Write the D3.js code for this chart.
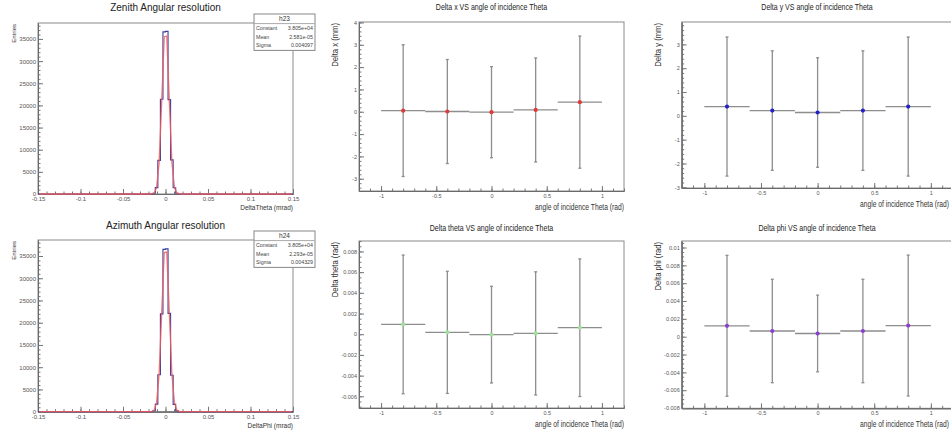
<!DOCTYPE html>
<html>
<head>
<meta charset="utf-8">
<script src="https://cdn.jsdelivr.net/npm/d3@7"></script>
<style>
  body { margin: 0; background: #fff; }
  svg { display: block; font-family: "Liberation Sans", Arial, sans-serif; }
</style>
</head>
<body>
<script>
// ---- histograms (0.003 wide bins, all bins outside the listed ones are empty)
var histRange = [-0.15, 0.15];
var binWidth = 0.003;
var binStart = -0.018;
var zenithCounts  = [0, 160, 1450, 7600, 21400, 36600, 36700, 21300, 7700, 1400, 170, 0];
var azimuthCounts = [0, 200, 1700, 8300, 22000, 36500, 36600, 22100, 8200, 1650, 190, 0];
var zenithStats  = [["Constant", "3.805e+04"], ["Mean", "2.581e-05"], ["Sigma", "0.004097"]];
var azimuthStats = [["Constant", "3.805e+04"], ["Mean", "2.293e-05"], ["Sigma", "0.004329"]];
var zenithFit  = [38050, 2.581e-05, 0.004097];   // constant, mean, sigma
var azimuthFit = [38050, 2.293e-05, 0.004329];
var histXTicks = [-0.15, -0.1, -0.05, 0, 0.05, 0.1, 0.15];
var histYTicks = [0, 5000, 10000, 15000, 20000, 25000, 30000, 35000];

// ---- profiles vs angle of incidence
var thetaBins = [-0.8, -0.4, 0, 0.4, 0.8];
var thetaHalfWidth = 0.2;
var deltaX      = [0.05, 0.01, -0.02, 0.08, 0.43];
var deltaXErr   = [2.95, 2.33, 2.04, 2.33, 2.96];
var deltaY      = [0.39, 0.22, 0.14, 0.22, 0.39];
var deltaYErr   = [2.92, 2.51, 2.30, 2.51, 2.92];
var deltaTheta    = [0.00095, 0.00018, -0.00004, 0.00008, 0.00063];
var deltaThetaErr = [0.0067, 0.0059, 0.00467, 0.00595, 0.00665];
var deltaPhi    = [0.00122, 0.00064, 0.00036, 0.00064, 0.00125];
var deltaPhiErr = [0.0079, 0.0058, 0.0043, 0.0058, 0.0079];
var thetaTicks = [-1, -0.5, 0, 0.5, 1];
var dxTicks = [-3, -2, -1, 0, 1, 2, 3, 4];
var dyTicks = [-3, -2, -1, 0, 1, 2, 3];
var dthTicks = [-0.006, -0.004, -0.002, 0, 0.002, 0.004, 0.006, 0.008];
var dphTicks = [-0.008, -0.006, -0.004, -0.002, 0, 0.002, 0.004, 0.006, 0.008, 0.01];

var svg = d3.select("body").append("svg").attr("width", 951).attr("height", 435);

function minorTicks(dom, step) {
  var lo = Math.ceil(dom[0] / step - 1e-6), hi = Math.floor(dom[1] / step + 1e-6);
  return d3.range(lo, hi + 1).map(function(k) { return k * step; });
}

// ROOT-like frame: ticks pointing inside, labels outside
function makeFrame(box, xDom, yDom, xMaj, xMin, yMaj, yMin, fs) {
  var x = d3.scaleLinear().domain(xDom).range([box.x0, box.x1]);
  var y = d3.scaleLinear().domain(yDom).range([box.y1, box.y0]);
  var g = svg.append("g");
  g.append("rect")
    .attr("x", box.x0).attr("y", box.y0)
    .attr("width", box.x1 - box.x0).attr("height", box.y1 - box.y0)
    .attr("fill", "none").attr("stroke", "#8a8a8a").attr("stroke-width", 1);

  var xa = g.append("g").attr("transform", "translate(0," + box.y1 + ")");
  xa.call(d3.axisBottom(x).tickValues(minorTicks(xDom, xMin)).tickSize(-2.5).tickSizeOuter(0).tickFormat(""));
  xa.append("g").call(d3.axisBottom(x).tickValues(xMaj).tickSize(-5).tickSizeOuter(0).tickPadding(3)
    .tickFormat(function(d) { return String(d); }));
  var ya = g.append("g").attr("transform", "translate(" + box.x0 + ",0)");
  ya.call(d3.axisLeft(y).tickValues(minorTicks(yDom, yMin)).tickSize(-2.5).tickSizeOuter(0).tickFormat(""));
  ya.append("g").call(d3.axisLeft(y).tickValues(yMaj).tickSize(-5).tickSizeOuter(0).tickPadding(2)
    .tickFormat(function(d) { return String(d); }));

  g.selectAll(".domain").attr("stroke", "#6a6a6a");
  g.selectAll(".tick line").attr("stroke", "#777");
  g.selectAll(".tick text").attr("fill", "#555").attr("font-size", fs);
  return { x: x, y: y, g: g };
}

// sx squeezes the text horizontally (ROOT output used a condensed face)
function title(cx, cy, txt, fs, sx) {
  svg.append("text").attr("transform", "translate(" + cx + "," + cy + ") scale(" + (sx || 1) + ",1)")
    .attr("text-anchor", "middle").attr("font-size", fs).attr("fill", "#222").text(txt);
}
function xLabel(xr, yy, txt, fs, sx) {
  svg.append("text").attr("transform", "translate(" + xr + "," + yy + ") scale(" + (sx || 1) + ",1)")
    .attr("text-anchor", "end").attr("font-size", fs).attr("fill", "#333").text(txt);
}
function yLabel(xx, ytop, txt, fs, sx) {
  svg.append("text").attr("transform", "translate(" + xx + "," + ytop + ") rotate(-90) scale(" + (sx || 1) + ",1)")
    .attr("text-anchor", "end").attr("font-size", fs).attr("fill", "#333").text(txt);
}

function statBox(x0, y0, name, rows) {
  var w = 61, rh = 8.6, g = svg.append("g");
  g.append("rect").attr("x", x0).attr("y", y0).attr("width", w).attr("height", rh * (rows.length + 1) + 2)
    .attr("fill", "#fff").attr("stroke", "#888");
  g.append("line").attr("x1", x0).attr("x2", x0 + w).attr("y1", y0 + rh + 1).attr("y2", y0 + rh + 1).attr("stroke", "#aaa");
  g.append("text").attr("x", x0 + w / 2).attr("y", y0 + 7).attr("text-anchor", "middle")
    .attr("font-size", 6.5).attr("fill", "#333").text(name);
  rows.forEach(function(r, i) {
    var yy = y0 + rh * (i + 1) + 7.5;
    g.append("text").attr("x", x0 + 2).attr("y", yy).attr("font-size", 5.3).attr("fill", "#444").text(r[0]);
    g.append("text").attr("x", x0 + w - 2).attr("y", yy).attr("text-anchor", "end")
      .attr("font-size", 5.3).attr("fill", "#444").text(r[1]);
  });
}

function histogram(box, counts, fit, stats, name, xTitle, titleTxt, titleY) {
  var f = makeFrame(box, histRange, [0, 38600], histXTicks, 0.01, histYTicks, 1000, 6);
  var pts = [[histRange[0], 0]];
  counts.forEach(function(c, i) { pts.push([binStart + i * binWidth, c]); });
  pts.push([binStart + counts.length * binWidth, 0], [histRange[1], 0]);
  var line = d3.line().x(function(d) { return f.x(d[0]); }).y(function(d) { return f.y(d[1]); });
  f.g.append("path").datum(pts).attr("d", line.curve(d3.curveStepAfter))
    .attr("fill", "none").attr("stroke", "#3c3c9c").attr("stroke-width", 1.1);
  // gaussian fit drawn the ROOT way: sampled at 100 bin centres over the range
  var n = 100, dx = (histRange[1] - histRange[0]) / n;
  var fp = d3.range(n).map(function(i) {
    var xv = histRange[0] + (i + 0.5) * dx;
    return [xv, fit[0] * Math.exp(-0.5 * Math.pow((xv - fit[1]) / fit[2], 2))];
  });
  f.g.append("path").datum(fp).attr("d", d3.line().x(function(d) { return f.x(d[0]); }).y(function(d) { return f.y(d[1]); }))
    .attr("fill", "none").attr("stroke", "#f25a5a").attr("stroke-width", 1.3).attr("opacity", 0.85);
  title((box.x0 + box.x1) / 2, titleY, titleTxt, 10);
  xLabel(box.x1, box.y1 + 16, xTitle, 6.5);
  yLabel(16, box.y0 + 1, "Entries", 6);
  statBox(254, box.y0 - 9, name, stats);
}

function profile(box, yDom, yMaj, yMinStep, vals, errs, color, yTitle, titleTxt, titleY) {
  var f = makeFrame(box, [-1.2, 1.2], yDom, thetaTicks, 0.1, yMaj, yMinStep, 5.5);
  var pg = f.g.append("g").attr("stroke", "#8d8d8d").attr("stroke-width", 1.3);
  thetaBins.forEach(function(c, i) {
    var v = vals[i], e = errs[i];
    pg.append("line").attr("x1", f.x(c - thetaHalfWidth)).attr("x2", f.x(c + thetaHalfWidth))
      .attr("y1", f.y(v)).attr("y2", f.y(v));
    pg.append("line").attr("x1", f.x(c)).attr("x2", f.x(c)).attr("y1", f.y(v - e)).attr("y2", f.y(v + e));
    [v - e, v + e].forEach(function(t) {
      pg.append("line").attr("x1", f.x(c) - 1.5).attr("x2", f.x(c) + 1.5).attr("y1", f.y(t)).attr("y2", f.y(t));
    });
  });
  f.g.selectAll(".mk").data(thetaBins).enter().append("circle")
    .attr("cx", function(d) { return f.x(d); })
    .attr("cy", function(d, i) { return f.y(vals[i]); })
    .attr("r", 2.1).attr("fill", color);
  var cx = box.x1 > 940 ? 817 : (box.x0 + box.x1) / 2;
  title(cx, titleY, titleTxt, 9, 0.78);
  xLabel(Math.min(box.x1, 949), box.y1 + 19, "angle of incidence Theta (rad)", 8.4, 0.8);
  yLabel(box.x0 - 21, box.y0 + 1, yTitle, 8.5, 0.9);
}

histogram({x0: 38, x1: 293, y0: 23, y1: 194}, zenithCounts, zenithFit, zenithStats, "h23",
  "DeltaTheta (mrad)", "Zenith Angular resolution", 11);
histogram({x0: 38, x1: 293, y0: 240, y1: 411.7}, azimuthCounts, azimuthFit, azimuthStats, "h24",
  "DeltaPhi (mrad)", "Azimuth Angular resolution", 229);

profile({x0: 359, x1: 624, y0: 22, y1: 191}, [-3.55, 4.02], dxTicks, 0.2, deltaX, deltaXErr, "#e03a3a",
  "Delta x (mm)", "Delta x VS angle of incidence Theta", 10);
profile({x0: 681.7, x1: 953.5, y0: 22, y1: 188}, [-3.03, 3.94], dyTicks, 0.2, deltaY, deltaYErr, "#2222c8",
  "Delta y (mm)", "Delta y VS angle of incidence Theta", 10);
profile({x0: 359, x1: 624, y0: 241, y1: 408}, [-0.00713, 0.00901], dthTicks, 0.0005, deltaTheta, deltaThetaErr, "#9fe09a",
  "Delta theta (rad)", "Delta theta VS angle of incidence Theta", 231);
profile({x0: 681.7, x1: 953.5, y0: 241, y1: 408.3}, [-0.00803, 0.01073], dphTicks, 0.0005, deltaPhi, deltaPhiErr, "#8a3fd0",
  "Delta phi (rad)", "Delta phi VS angle of incidence Theta", 231);
</script>
</body>
</html>
